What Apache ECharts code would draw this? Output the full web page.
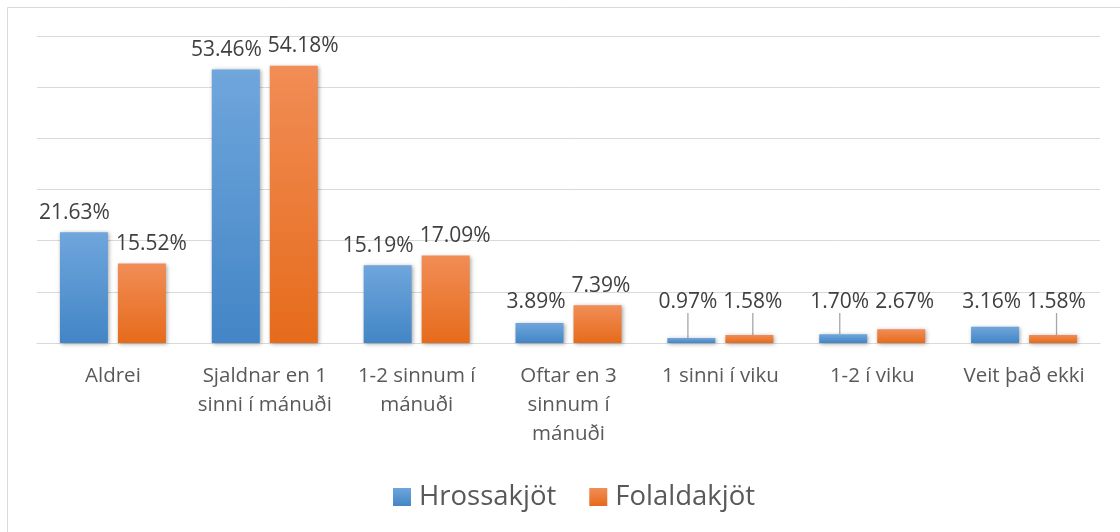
<!DOCTYPE html>
<html>
<head>
<meta charset="utf-8">
<script src="https://cdn.jsdelivr.net/npm/echarts@6/dist/echarts.min.js"></script>
<style>
  html, body { margin: 0; padding: 0; background: #ffffff; }
  #chart { width: 1120px; height: 532px; }
</style>
</head>
<body>
<div id="chart"></div>
<script>
// ---- data ----
const categories = [
  "Aldrei",
  "Sjaldnar en 1\nsinni í mánuði",
  "1-2 sinnum í\nmánuði",
  "Oftar en 3\nsinnum í\nmánuði",
  "1 sinni í viku",
  "1-2 í viku",
  "Veit það ekki"
];
const seriesNames = ["Hrossakjöt", "Folaldakjöt"];
const hrossakjot = [21.63, 53.46, 15.19, 3.89, 0.97, 1.70, 3.16];
const folaldakjot = [15.52, 54.18, 17.09, 7.39, 1.58, 2.67, 1.58];
const yTicks = [0, 10, 20, 30, 40, 50, 60];

// ---- styling ----
const FONT = "'Open Sans', Lato, sans-serif";
const blueGrad = new echarts.graphic.LinearGradient(0, 0, 0, 1, [
  { offset: 0, color: '#6fa6dc' }, { offset: 1, color: '#4385c6' }
]);
const orangeGrad = new echarts.graphic.LinearGradient(0, 0, 0, 1, [
  { offset: 0, color: '#f18d56' }, { offset: 1, color: '#e66b1b' }
]);
const LABEL_ROW_BOTTOM = 313;
const BAR_WIDTH = 48;
const BAR_GAP_PX = 10;

function items(values) {
  return values.map(v => ({ value: v, labelLine: { show: v < 2 } }));
}

function makeSeries(name, values, grad, side) {
  return {
    name: name,
    type: 'bar',
    data: items(values),
    barWidth: BAR_WIDTH,
    barGap: (BAR_GAP_PX / BAR_WIDTH * 100) + '%',
    itemStyle: {
      color: grad,
      shadowColor: 'rgba(0,0,0,0.35)',
      shadowBlur: 4,
      shadowOffsetX: 1,
      shadowOffsetY: 1
    },
    label: {
      show: true,
      position: 'top',
      distance: 9,
      fontFamily: FONT,
      fontSize: 21,
      color: '#404040',
      formatter: p => p.value.toFixed(2) + '%'
    },
    labelLine: {
      show: false,
      lineStyle: { color: '#a6a6a6', width: 1.3 }
    },
    labelLayout: function (params) {
      const r = params.labelRect;
      const bottom = r.y + r.height;
      const out = {};
      if (bottom > LABEL_ROW_BOTTOM) {
        out.dy = LABEL_ROW_BOTTOM - bottom;
      }
      const spacing = BAR_WIDTH + BAR_GAP_PX;
      const s = Math.max(0, (r.width + 6 - spacing) / 2);
      out.dx = side * s;
      return out;
    },
    emphasis: { disabled: true }
  };
}

const chart = echarts.init(document.getElementById('chart'), null, { renderer: 'canvas' });
chart.setOption({
  animation: false,
  backgroundColor: '#ffffff',
  graphic: [{
    type: 'rect',
    shape: { x: 7.5, y: 7.5, width: 1200, height: 600 },
    style: { fill: 'none', stroke: '#d9d9d9', lineWidth: 1 },
    silent: true,
    z: -10
  }],
  grid: {
    left: 37, right: 20, top: 36, bottom: 189,
    outerBoundsMode: 'none',
    containLabel: false
  },
  legend: {
    data: seriesNames,
    left: 388,
    top: 478,
    itemWidth: 18,
    itemHeight: 18,
    itemGap: 33,
    icon: 'rect',
    textStyle: {
      fontFamily: FONT,
      fontSize: 27.5,
      color: '#595959',
      lineHeight: 28,
      padding: [0, 0, 0, 3]
    }
  },
  xAxis: {
    type: 'category',
    data: categories,
    axisLine: { show: true, lineStyle: { color: '#d9d9d9', width: 1 } },
    axisTick: { show: false },
    axisLabel: {
      interval: 0,
      margin: 19,
      fontFamily: FONT,
      fontSize: 20.5,
      lineHeight: 29,
      color: '#595959'
    }
  },
  yAxis: {
    type: 'value',
    min: yTicks[0],
    max: yTicks[yTicks.length - 1],
    interval: yTicks[1] - yTicks[0],
    axisLabel: { show: false },
    axisLine: { show: false },
    axisTick: { show: false },
    splitLine: { lineStyle: { color: '#d9d9d9', width: 1 } }
  },
  series: [
    makeSeries(seriesNames[0], hrossakjot, blueGrad, -1),
    makeSeries(seriesNames[1], folaldakjot, orangeGrad, 1)
  ]
});
</script>
</body>
</html>
